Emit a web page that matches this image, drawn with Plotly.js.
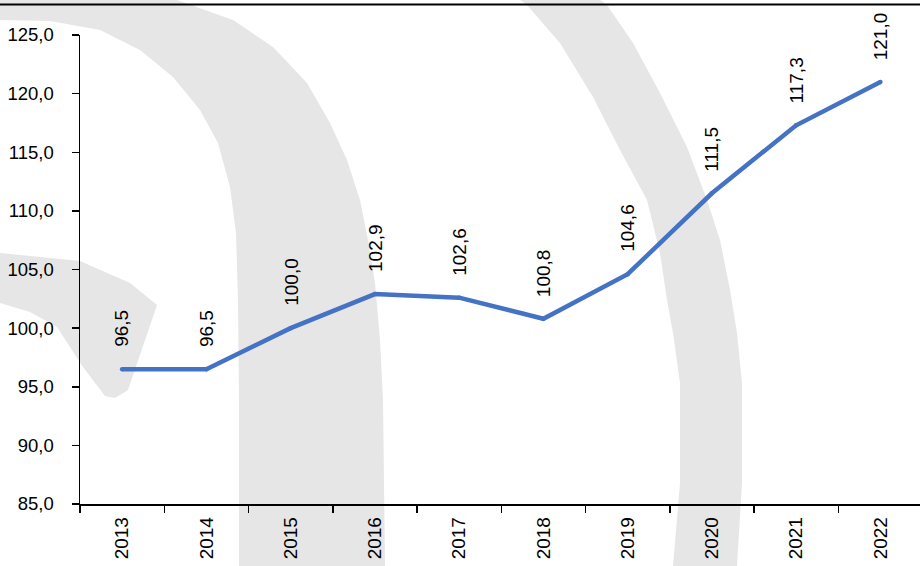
<!DOCTYPE html>
<html>
<head>
<meta charset="utf-8">
<script src="https://cdn.plot.ly/plotly-3.0.1.min.js"></script>
<style>html,body{margin:0;padding:0;background:#fff;}#chart{width:920px;height:566px;}</style>
</head>
<body>
<div id="chart"></div>
<script>
// ---- data ----
var years = ["2013","2014","2015","2016","2017","2018","2019","2020","2021","2022"];
var values = [96.5, 96.5, 100.0, 102.9, 102.6, 100.8, 104.6, 111.5, 117.3, 121.0];
var yTicks = [85, 90, 95, 100, 105, 110, 115, 120, 125];

// ---- layout geometry ----
var W = 920, H = 566, M = {l: 80, r: 0, t: 35, b: 62};
var PW = W - M.l - M.r, PH = H - M.t - M.b;
function px(x){ return (x - M.l) / PW; }
function py(y){ return 1 - (y - M.t) / PH; }
function pathFrom(pts){
  return pts.map(function(p, i){ return (i ? 'L' : 'M') + px(p[0]).toFixed(5) + ',' + py(p[1]).toFixed(5); }).join(' ') + ' Z';
}

// background watermark arcs (decoration)
var wm1 = [[0,0],[177,0],[233,20],[273,47],[307,83],[330,123],[347,160],[360,200],[368,240],[375,283],[380,340],[383,400],[385,566],
           [239,566],[239,400],[238,300],[236,233],[230,187],[218,143],[200,110],[173,77],[140,50],[100,30],[50,21],[0,20]];
var wm2 = [[0,253],[80,261],[130,283],[157,305],[128,390],[115,398],[105,396],[83,367],[57,327],[30,312],[0,303]];
var wm3 = [[520,0],[527,5],[560,43],[593,97],[620,150],[647,200],[660,253],[667,300],[673,333],[680,383],[680,483],[673,566],
           [737,566],[742,483],[742,383],[737,333],[730,290],[720,240],[707,200],[687,147],[660,93],[633,43],[607,5],[600,0]];
var gray = '#e6e6e6';
var shapes = [wm1, wm2, wm3].map(function(p){
  return {type:'path', xref:'paper', yref:'paper', path: pathFrom(p), fillcolor: gray, line:{width:0}, layer:'below'};
});
shapes.push({type:'line', xref:'paper', yref:'paper', x0: px(0), x1: px(920), y0: py(4.5), y1: py(4.5),
             line:{color:'#000', width:2}, layer:'above'});

function fmt(v){ return v.toFixed(1).replace('.', ','); }

var font = {family:'Arial, "Liberation Sans", sans-serif', size:19, color:'#000'};
var yfont = {family:'Arial, "Liberation Sans", sans-serif', size:18.5, color:'#000'};

var annotations = years.map(function(y, i){
  return {x: i, y: values[i], xref:'x', yref:'y', text: fmt(values[i]), textangle: -90,
          showarrow:false, yanchor:'bottom', xanchor:'center', yshift: 20,
          font: font};
});

var trace = {
  x: years, y: values, type:'scatter', mode:'lines+markers',
  line:{color:'#4472C4', width:4.5},
  marker:{color:'#4472C4', size:4.5},
  hoverinfo:'skip'
};

var layout = {
  width: W, height: H,
  margin: {l: M.l, r: M.r, t: M.t, b: M.b, pad: 0},
  paper_bgcolor:'#fff', plot_bgcolor:'rgba(0,0,0,0)',
  separators: ', ',
  font: font,
  showlegend:false,
  xaxis: {
    type:'category', range:[-0.5, 9.47], tickson:'boundaries',
    showline:true, linecolor:'#000', linewidth:1.5,
    ticks:'outside', ticklen:7, tickwidth:1.5, tickcolor:'#000',
    tickangle:-90, tickfont: font, showgrid:false, zeroline:false,
    ticklabelstandoff: 4, fixedrange:true
  },
  yaxis: {
    range:[85, 125], tickvals: yTicks, tickformat:'.1f',
    showline:true, linecolor:'#000', linewidth:1.5,
    ticks:'outside', ticklen:7, tickwidth:1.5, tickcolor:'#000',
    tickfont: yfont, showgrid:false, zeroline:false,
    ticklabelstandoff: 14, fixedrange:true
  },
  shapes: shapes,
  annotations: annotations
};

Plotly.newPlot('chart', [trace], layout, {staticPlot:true, displayModeBar:false});
</script>
</body>
</html>
